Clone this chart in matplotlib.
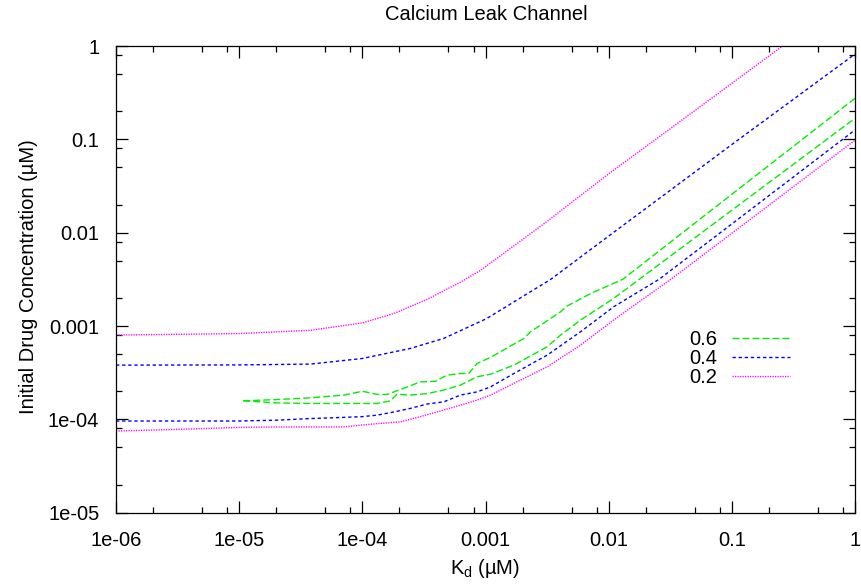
import numpy as np
import matplotlib
matplotlib.use('Agg')
import matplotlib.pyplot as plt
from matplotlib.ticker import FixedLocator, FixedFormatter, LogLocator, NullFormatter

plt.rcParams['font.family'] = ['Liberation Sans', 'DejaVu Sans']
plt.rcParams['mathtext.fontset'] = 'custom'
plt.rcParams['mathtext.rm'] = 'Liberation Sans'
plt.rcParams['mathtext.it'] = 'Liberation Sans:italic'

FS = 14.5

# 0.6 pair (green)
kd_06_hi = [1.08e-5, 2.02e-5, 3.78e-5, 7.05e-5, 1.0e-4, 1.32e-4, 1.59e-4, 2.04e-4, 2.96e-4,
            3.92e-4, 4.88e-4, 6.26e-4, 7.31e-4, 8.55e-4, 1.12e-3, 2.05e-3, 2.32e-3, 4.07e-3,
            4.61e-3, 7.14e-3, 0.0130, 0.1, 1.0]
conc_06_hi = [1.58e-4, 1.63e-4, 1.70e-4, 1.82e-4, 2.00e-4, 1.85e-4, 1.85e-4, 2.09e-4, 2.52e-4,
              2.56e-4, 2.98e-4, 3.10e-4, 3.10e-4, 3.97e-4, 4.68e-4, 7.36e-4, 8.67e-4, 1.42e-3,
              1.64e-3, 2.23e-3, 3.16e-3, 0.0258, 0.275]
kd_06_lo = [1.08e-5, 2.02e-5, 3.78e-5, 7.05e-5, 1.32e-4, 1.69e-4, 1.91e-4, 2.45e-4, 3.36e-4,
            4.58e-4, 6.26e-4, 8.55e-4, 1.10e-3, 1.24e-3, 1.70e-3, 3.17e-3, 4.07e-3, 5.92e-3,
            0.0110, 0.0177, 0.1, 1.0]
conc_06_lo = [1.58e-4, 1.50e-4, 1.48e-4, 1.48e-4, 1.48e-4, 1.58e-4, 1.86e-4, 1.82e-4, 1.89e-4,
              2.06e-4, 2.33e-4, 2.86e-4, 3.05e-4, 3.24e-4, 3.81e-4, 6.0e-4, 8.0e-4, 1.16e-3,
              1.98e-3, 3.16e-3, 0.0174, 0.168]

# 0.4 pair (blue)
kd_04_hi = [1e-6, 1e-5, 3.8e-5, 1e-4, 2.45e-4, 4.57e-4, 1.02e-3, 3.37e-3, 0.01, 0.1, 1.0]
conc_04_hi = [3.81e-4, 3.83e-4, 3.91e-4, 4.49e-4, 5.75e-4, 7.36e-4, 1.2e-3, 3.15e-3, 9.2e-3,
              0.088, 0.82]
kd_04_lo = [1e-6, 1e-5, 2.02e-5, 3.78e-5, 7.05e-5, 1e-4, 1.32e-4, 1.80e-4, 2.45e-4, 3.36e-4,
            4.58e-4, 6.26e-4, 8.55e-4, 1.10e-3, 1.70e-3, 3.17e-3, 5.92e-3, 0.0110, 0.0256, 0.1, 1.0]
conc_04_lo = [9.6e-5, 9.6e-5, 9.8e-5, 1.02e-4, 1.05e-4, 1.07e-4, 1.11e-4, 1.20e-4, 1.31e-4,
              1.46e-4, 1.54e-4, 1.82e-4, 1.97e-4, 2.23e-4, 3.10e-4, 4.88e-4, 8.69e-4, 1.61e-3,
              3.16e-3, 0.0124, 0.126]

# 0.2 pair (magenta)
kd_02_hi = [1e-6, 1e-5, 3.8e-5, 1e-4, 1.8e-4, 3.36e-4, 6.26e-4, 9.1e-4, 3.16e-3, 0.01, 0.0316,
            0.1, 0.258, 0.3]
conc_02_hi = [8.0e-4, 8.3e-4, 9.0e-4, 1.08e-3, 1.36e-3, 1.93e-3, 2.95e-3, 3.94e-3, 0.0132,
              0.0427, 0.130, 0.398, 1.0, 1.15]
kd_02_lo = [1e-6, 3.11e-6, 1e-5, 2.02e-5, 3.78e-5, 7.05e-5, 1e-4, 1.32e-4, 2.04e-4, 2.96e-4,
            4.58e-4, 6.26e-4, 8.55e-4, 1.10e-3, 1.70e-3, 3.17e-3, 5.92e-3, 0.0110, 0.0206, 0.0319,
            0.1, 1.0]
conc_02_lo = [7.5e-5, 7.8e-5, 8.2e-5, 8.3e-5, 8.3e-5, 8.3e-5, 8.7e-5, 9.0e-5, 9.4e-5, 1.07e-4,
              1.26e-4, 1.42e-4, 1.61e-4, 1.82e-4, 2.43e-4, 3.66e-4, 6.25e-4, 1.16e-3, 2.1e-3,
              3.16e-3, 9.86e-3, 0.098]

labels = ['0.6', '0.4', '0.2']
xtick_vals = [1e-6, 1e-5, 1e-4, 1e-3, 1e-2, 1e-1, 1]
xtick_labels = ['1e-06', '1e-05', '1e-04', '0.001', '0.01', '0.1', '1']
ytick_vals = [1e-5, 1e-4, 1e-3, 1e-2, 1e-1, 1]
ytick_labels = ['1e-05', '1e-04', '0.001', '0.01', '0.1', '1']

fig = plt.figure(figsize=(8.61, 5.86), dpi=100)
ax = fig.add_axes([116 / 861, 1 - 512.7 / 586, 739 / 861, 466.7 / 586])

styles = [
    ('#00ee00', (5.0, 2.2)),   # 0.6 dashed
    ('#0000ff', (2.4, 2.0)),   # 0.4 short dash
    ('#ff00ff', (0.9, 0.9)),   # 0.2 dotted
]
pairs = [
    (kd_06_hi, conc_06_hi, kd_06_lo, conc_06_lo),
    (kd_04_hi, conc_04_hi, kd_04_lo, conc_04_lo),
    (kd_02_hi, conc_02_hi, kd_02_lo, conc_02_lo),
]

for (col, dash), (kh, ch, kl, cl), lab in zip(styles, pairs, labels):
    ax.plot(kh, ch, color=col, lw=1.0, dashes=dash, label=lab)
    ax.plot(kl, cl, color=col, lw=1.0, dashes=dash)

ax.set_xscale('log')
ax.set_yscale('log')
ax.set_xlim(1e-6, 1)
ax.set_ylim(1e-5, 1)

ax.xaxis.set_major_locator(FixedLocator(xtick_vals))
ax.xaxis.set_major_formatter(FixedFormatter(xtick_labels))
ax.yaxis.set_major_locator(FixedLocator(ytick_vals))
ax.yaxis.set_major_formatter(FixedFormatter(ytick_labels))
ax.xaxis.set_minor_locator(LogLocator(base=10, subs=(2, 5, 8)))
ax.yaxis.set_minor_locator(LogLocator(base=10, subs=(2, 5, 8)))
ax.xaxis.set_minor_formatter(NullFormatter())
ax.yaxis.set_minor_formatter(NullFormatter())

ax.tick_params(which='both', direction='in', top=True, right=True, labelsize=FS,
               width=0.9)
ax.tick_params(axis='x', pad=13)
ax.tick_params(axis='y', pad=12)
ax.tick_params(which='major', length=8.6)
ax.tick_params(which='minor', length=4.3)
for sp in ax.spines.values():
    sp.set_linewidth(0.9)

fig.text(486 / 861, 1 - 15 / 586, 'Calcium Leak Channel', ha='center', va='center', fontsize=FS)
fig.text(485 / 861, 1 - 568 / 586, r'K$_{\mathrm{d}}$ (µM)', ha='center', va='center', fontsize=FS)
fig.text(29 / 861, 1 - 277 / 586, 'Initial Drug Concentration (µM)', ha='center', va='center',
         rotation=90, fontsize=FS)

ax.legend(loc='upper right', bbox_to_anchor=(790 / 861, 1 - 330 / 586),
          bbox_transform=fig.transFigure, frameon=False, markerfirst=False,
          fontsize=FS, handlelength=2.9, handletextpad=0.7, labelspacing=0.0,
          borderpad=0, borderaxespad=0)

fig.savefig('out.png', dpi=100)
